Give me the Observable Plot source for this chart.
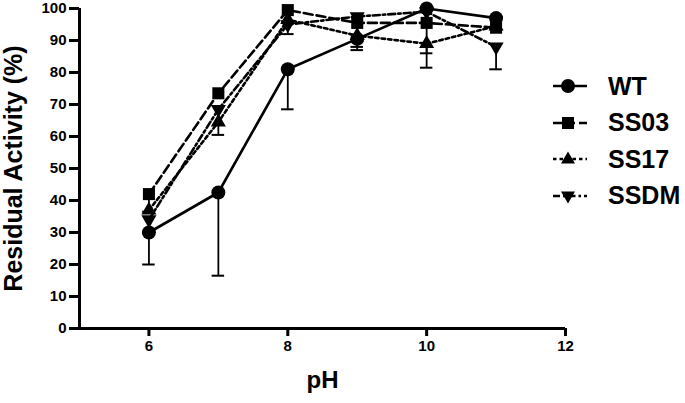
<!DOCTYPE html>
<html><head><meta charset="utf-8">
<script src="https://cdn.jsdelivr.net/npm/d3@7"></script>
<script src="https://cdn.jsdelivr.net/npm/@observablehq/plot@0.6"></script>
<style>
body{margin:0;background:#fff;font-family:"Liberation Sans",Arial,sans-serif}
#wrap{position:relative;width:685px;height:403px}
#wrap svg text{font-family:"Liberation Sans",Arial,sans-serif;font-weight:bold}
#legend{position:absolute;left:550px;top:68px}
.row{display:flex;align-items:center;height:36.5px}
.row span{font:bold 25px "Liberation Sans",Arial,sans-serif;margin-left:18px;color:#000}
</style></head>
<body><div id="wrap"></div>
<script>
// data
const pH = [6, 7, 8, 9, 10, 11];
const seriesNames = ["WT", "SS03", "SS17", "SSDM"];
const wtValues   = [30, 42.5, 81, 90.5, 100, 97];
const ss03Values = [42, 73.5, 99.5, 95.5, 95.5, 94];
const ss17Values = [37, 64.5, 96.5, 91.5, 89, 94.5];
const ssdmValues = [34, 68.5, 95, 97.5, 99, 88];
// lower ends of error bars (null = not visible)
const wtLow   = [20, 16.5, 68.5, 87, null, null];
const ss03Low = [36.5, null, null, null, null, null];
const ss17Low = [null, 60.5, 92, 88, 86, null];
const ssdmLow = [null, null, null, null, 81.5, 81];
const xTicks = [6, 8, 10, 12];
const yTicks = [0, 10, 20, 30, 40, 50, 60, 70, 80, 90, 100];

const valuesBy = {WT: wtValues, SS03: ss03Values, SS17: ss17Values, SSDM: ssdmValues};
const lowBy = {WT: wtLow, SS03: ss03Low, SS17: ss17Low, SSDM: ssdmLow};
const rows = seriesNames.flatMap(s => pH.map((x, i) => ({series: s, x, y: valuesBy[s][i], low: lowBy[s][i]})));
const errs = rows.filter(d => d.low != null);

const downTriangle = {
  draw(ctx, size) {
    const s = Math.sqrt(size / (Math.sqrt(3) / 4));
    const h = s * Math.sqrt(3) / 2;
    ctx.moveTo(0, 2 * h / 3);
    ctx.lineTo(-s / 2, -h / 3);
    ctx.lineTo(s / 2, -h / 3);
    ctx.closePath();
  }
};
const style = {
  WT:   {dash: null,        symbol: "circle",   r: 7},
  SS03: {dash: "9,4",       symbol: "square",   r: 6.8},
  SS17: {dash: "3.5,3",     symbol: "triangle", r: 5.6},
  SSDM: {dash: "7,3,2.5,3", symbol: downTriangle, r: 5.6}
};

const marks = [];
for (const s of seriesNames) {
  const data = rows.filter(d => d.series === s);
  marks.push(Plot.line(data, {x: "x", y: "y", stroke: "black", strokeWidth: 2.6, strokeDasharray: style[s].dash}));
}
marks.push(Plot.ruleX(errs, {x: "x", y1: "y", y2: "low", stroke: "black", strokeWidth: 1.8}));
marks.push(Plot.ruleY(errs, {y: "low", x1: d => d.x - 0.09, x2: d => d.x + 0.09, stroke: "black", strokeWidth: 2}));
for (const s of seriesNames) {
  const data = rows.filter(d => d.series === s);
  marks.push(Plot.dot(data, {x: "x", y: "y", symbol: style[s].symbol, r: style[s].r, fill: "black", stroke: "none"}));
}
marks.push(Plot.ruleX([5], {y1: 0, y2: 100, stroke: "black", strokeWidth: 3}));
marks.push(Plot.ruleY([0], {x1: 5, x2: 12, stroke: "black", strokeWidth: 3}));
marks.push(Plot.axisY({ticks: yTicks, tickSize: 10, tickPadding: 3, strokeWidth: 3, fontSize: 15,
  label: "Residual Activity (%)", labelArrow: "none", labelAnchor: "center", labelOffset: 75}));
marks.push(Plot.axisX({ticks: xTicks, tickFormat: d => String(d), tickSize: 8, tickPadding: 4, strokeWidth: 3, fontSize: 15,
  label: "pH", labelArrow: "none", labelAnchor: "center", labelOffset: 59}));

const chart = Plot.plot({
  width: 685, height: 403,
  marginLeft: 79, marginRight: 120, marginTop: 8, marginBottom: 75,
  style: {background: "white", color: "black", fontFamily: "Liberation Sans, Arial, sans-serif"},
  x: {domain: [5, 12]},
  y: {domain: [0, 100]},
  marks
});
document.getElementById("wrap").appendChild(chart);
d3.select(chart).selectAll('[aria-label="y-axis label"] text').style("font-size", "25px");
d3.select(chart).selectAll('[aria-label="x-axis label"] text').style("font-size", "24px");

// legend
const sym = {
  WT: '<circle cx="18" cy="10" r="7"/>',
  SS03: '<rect x="12" y="4" width="12" height="12"/>',
  SS17: '<path d="M18,2.5 L25,14.5 L11,14.5Z"/>',
  SSDM: '<path d="M18,17.5 L25,5.5 L11,5.5Z"/>'
};
const legend = document.createElement("div");
legend.id = "legend";
legend.innerHTML = seriesNames.map(s => `<div class="row"><svg width="40" height="20">
  <line x1="3" x2="37" y1="10" y2="10" stroke="black" stroke-width="2.6" ${style[s].dash ? `stroke-dasharray="${style[s].dash}"` : ""}/>
  ${sym[s]}</svg><span>${s}</span></div>`).join("");
document.getElementById("wrap").appendChild(legend);
</script>
</body></html>
